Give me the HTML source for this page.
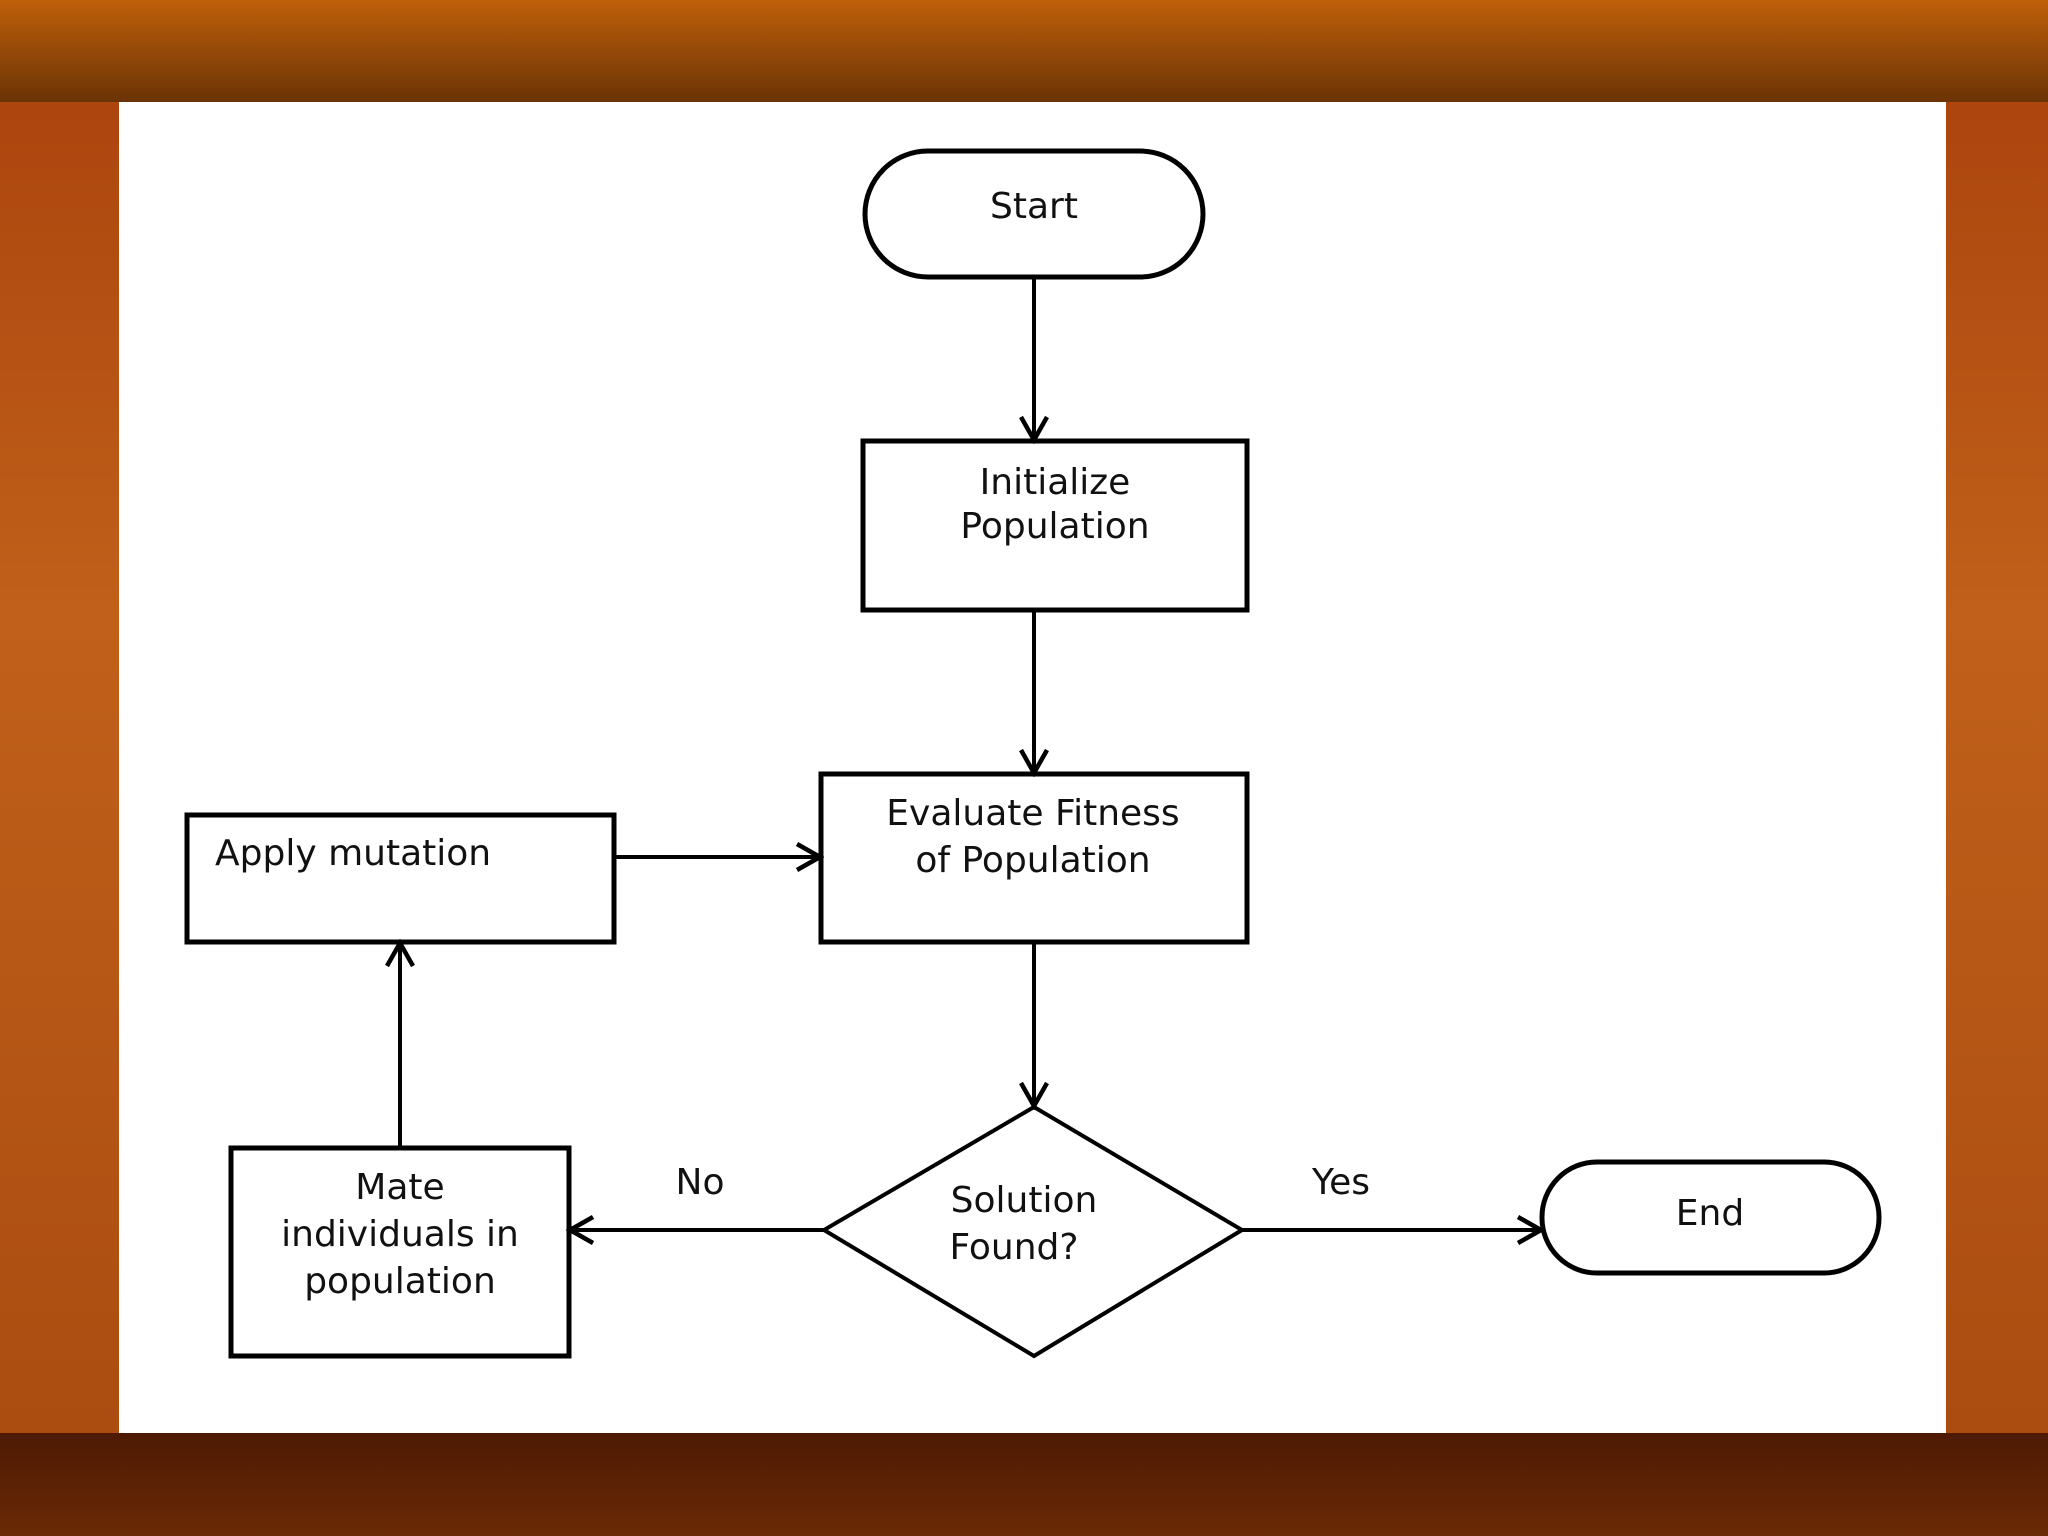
<!DOCTYPE html>
<html><head><meta charset="utf-8"><style>
html,body{margin:0;padding:0;width:2048px;height:1536px;overflow:hidden;background:#a8440e}
</style></head><body>
<svg width="2048" height="1536" viewBox="0 0 2048 1536" xmlns="http://www.w3.org/2000/svg">
<defs>
<linearGradient id="top" x1="0" y1="0" x2="0" y2="1"><stop offset="0" stop-color="#bf600a"/><stop offset="1" stop-color="#6b3306"/></linearGradient>
<linearGradient id="bot" x1="0" y1="0" x2="0" y2="1"><stop offset="0" stop-color="#4e1a04"/><stop offset="1" stop-color="#6a2a06"/></linearGradient>
<linearGradient id="side" x1="0" y1="0" x2="0" y2="1"><stop offset="0" stop-color="#a8400c"/><stop offset="0.4" stop-color="#c0601a"/><stop offset="1" stop-color="#a84a10"/></linearGradient>
<marker id="ah" markerWidth="30" markerHeight="32" refX="26" refY="16" orient="auto" markerUnits="userSpaceOnUse">
<path d="M3,3 L26,16 L3,29" fill="none" stroke="#000" stroke-width="4.5"/></marker>
</defs>
<rect width="2048" height="1536" fill="url(#side)"/>
<rect width="2048" height="102" fill="url(#top)"/>
<rect y="1433" width="2048" height="103" fill="url(#bot)"/>
<rect x="119" y="102" width="1827" height="1331" fill="#fff"/>
<g fill="none" stroke="#000" stroke-width="5">
<rect x="865" y="151" width="338" height="126" rx="63"/>
<rect x="863" y="441" width="384" height="169"/>
<rect x="821" y="774" width="426" height="168"/>
<polygon points="1034,1107 1242,1230 1034,1356 824,1230" stroke-width="4"/>
<rect x="1542" y="1162" width="337" height="111" rx="55"/>
<rect x="231" y="1148" width="338" height="208"/>
<rect x="187" y="815" width="427" height="127"/>
</g>
<g stroke="#000" stroke-width="4" fill="none" marker-end="url(#ah)">
<line x1="1034" y1="277" x2="1034" y2="440"/>
<line x1="1034" y1="610" x2="1034" y2="773"/>
<line x1="1034" y1="942" x2="1034" y2="1106"/>
<line x1="1242" y1="1230" x2="1541" y2="1230"/>
<line x1="824" y1="1230" x2="570" y2="1230"/>
<line x1="400" y1="1148" x2="400" y2="943"/>
<line x1="614" y1="857" x2="820" y2="857"/>
</g>
<g font-family="'DejaVu Sans','Liberation Sans',sans-serif" font-size="36" fill="#111" text-anchor="middle">
<text x="1034" y="218">Start</text>
<text x="1055" y="494">Initialize</text>
<text x="1055" y="538">Population</text>
<text x="1033" y="825">Evaluate Fitness</text>
<text x="1033" y="872">of Population</text>
<text x="1024" y="1212">Solution</text>
<text x="1014" y="1259">Found?</text>
<text x="1710" y="1225">End</text>
<text x="400" y="1199">Mate</text>
<text x="400" y="1246">individuals in</text>
<text x="400" y="1293">population</text>
<text x="215" y="865" text-anchor="start">Apply mutation</text>
<text x="700" y="1194">No</text>
<text x="1341" y="1194">Yes</text>
</g>
</svg>
</body></html>
